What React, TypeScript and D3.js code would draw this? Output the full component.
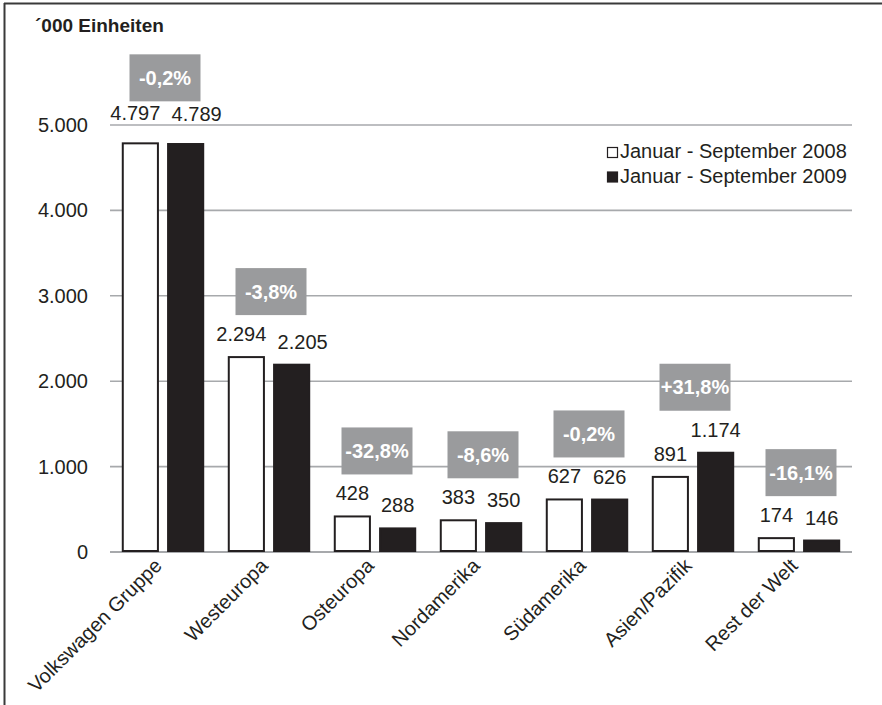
import React from "react";
import * as d3 from "d3";

const categories = [
  "Volkswagen Gruppe",
  "Westeuropa",
  "Osteuropa",
  "Nordamerika",
  "Südamerika",
  "Asien/Pazifik",
  "Rest der Welt",
];
const values2008 = [4797, 2294, 428, 383, 627, 891, 174];
const values2009 = [4789, 2205, 288, 350, 626, 1174, 146];
const changes = ["-0,2%", "-3,8%", "-32,8%", "-8,6%", "-0,2%", "+31,8%", "-16,1%"];
const seriesNames = ["Januar - September 2008", "Januar - September 2009"];
const yTicks = [0, 1000, 2000, 3000, 4000, 5000];

const W = 882;
const H = 705;
const FONT = "'Liberation Sans', Arial, sans-serif";
const DARK = "#231f20";
const GRID = "#a7a9ac";
const BOX = "#9a9b9d";
const FS = 20;

const de = d3.formatLocale({
  decimal: ",",
  thousands: ".",
  grouping: [3],
  currency: ["", " €"],
});
const fmt = de.format(",d");

export default function App() {
  const x = d3.scaleBand().domain(categories).range([110, 852]);
  const inner = d3
    .scaleBand()
    .domain(seriesNames)
    .range([0, x.bandwidth()])
    .paddingInner(0.18)
    .paddingOuter(0.26);
  const y = d3.scaleLinear().domain([0, 5000]).range([552, 125]);

  const rows = categories.map((c, i) => ({
    cat: c,
    vals: [values2008[i], values2009[i]],
    change: changes[i],
  }));

  return (
    <div style={{ position: "absolute", left: 0, top: 0 }}>
      <svg width={W} height={H} style={{ display: "block", background: "#fff" }} fontFamily={FONT}>
        {/* frame */}
        <line x1={4} x2={W} y1={3.5} y2={3.5} stroke="#3a3a3a" strokeWidth={2} />
        <line x1={4.5} x2={4.5} y1={3} y2={H} stroke="#3a3a3a" strokeWidth={2} />

        <text x={35} y={32} fontSize={19} fontWeight="bold" fill={DARK}>
          ´000 Einheiten
        </text>

        {/* grid + y labels */}
        {yTicks.map((t) => (
          <g key={t}>
            <line
              x1={110}
              x2={852}
              y1={y(t)}
              y2={y(t)}
              stroke={GRID}
              strokeWidth={t === 0 ? 2.2 : 1.6}
            />
            <text x={88} y={y(t) + 7} textAnchor="end" fontSize={FS} fill={DARK}>
              {fmt(t)}
            </text>
          </g>
        ))}

        {/* bars */}
        {rows.map((r, i) => {
          const x0 = x(r.cat)!;
          const cx = x0 + x.bandwidth() / 2;
          const top = y(d3.max(r.vals)!);
          return (
            <g key={r.cat}>
              {r.vals.map((v, j) => {
                const bx = x0 + inner(seriesNames[j])!;
                const bw = inner.bandwidth();
                const dx = i < 2 ? (j === 0 ? -5 : 11) : 0;
                const dy = i === 0 ? 22 : 15;
                return (
                  <g key={j}>
                    <rect
                      x={bx + 1}
                      y={y(v) + 1}
                      width={bw - 2}
                      height={y(0) - y(v) - 2}
                      fill={j === 0 ? "#fff" : DARK}
                      stroke={DARK}
                      strokeWidth={2}
                    />
                    <text
                      x={bx + bw / 2 + dx}
                      y={y(v) - dy}
                      textAnchor="middle"
                      fontSize={FS}
                      fill={DARK}
                    >
                      {fmt(v)}
                    </text>
                  </g>
                );
              })}
              <rect x={cx + 2 - 35.5} y={top - 41 - 47} width={71} height={47} fill={BOX} />
              <text
                x={cx + 2}
                y={top - 41 - 47 / 2 + 7}
                textAnchor="middle"
                fontSize={FS}
                fontWeight="bold"
                fill="#fff"
              >
                {r.change}
              </text>
              <text
                transform={`translate(${cx},${y(0) + 15}) rotate(-45)`}
                textAnchor="end"
                fontSize={FS}
                fill={DARK}
              >
                {r.cat}
              </text>
            </g>
          );
        })}

        {/* legend */}
        {seriesNames.map((s, j) => (
          <g key={s} transform={`translate(607,${147 + j * 24.5})`}>
            <rect
              x={0.5}
              y={0.5}
              width={10}
              height={10}
              fill={j === 0 ? "#fff" : DARK}
              stroke={DARK}
              strokeWidth={1.2}
            />
            <text x={13} y={11} fontSize={FS} fill={DARK}>
              {s}
            </text>
          </g>
        ))}
      </svg>
    </div>
  );
}
